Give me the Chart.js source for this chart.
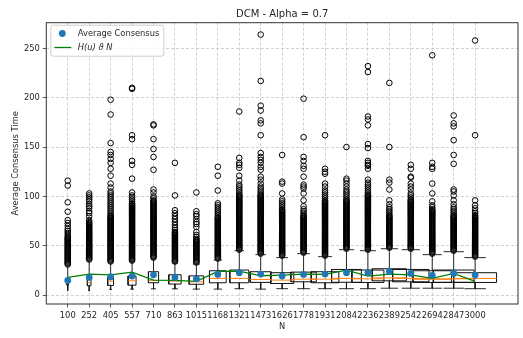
<!DOCTYPE html>
<html lang="en">
<head>
<meta charset="UTF-8">
<title>DCM - Alpha = 0.7</title>
<script src="https://cdn.jsdelivr.net/npm/chart.js@4.4.0/dist/chart.umd.min.js"></script>
<style>
  html, body { margin: 0; padding: 0; background: #fff; }
  #wrap { width: 523px; height: 338px; }
</style>
</head>
<body>
<div id="wrap"><canvas id="chart" width="523" height="338"></canvas></div>
<script>
// network sizes (one box per N)
const sizes = [100, 252, 405, 557, 710, 863, 1015, 1168, 1321, 1473, 1626, 1778, 1931, 2084, 2236, 2389, 2542, 2694, 2847, 3000];

// box statistics
const q1 = [10, 9.5, 9.8, 10.1, 12.5, 11.2, 11, 12.5, 12.5, 12.9, 11.8, 13.5, 12.5, 13, 12.8, 14.5, 13.5, 12.8, 13, 12.8];
const medians = [12, 12.9, 14.2, 14.5, 14.9, 14.2, 13.5, 16.9, 16.9, 15.9, 15.2, 16.2, 16.2, 17, 16.5, 17.5, 17, 16, 16.5, 16.9];
const q3 = [14, 15.9, 17.9, 19.3, 23.7, 20.6, 19.5, 24.7, 25.4, 23.7, 22.7, 23.3, 23.7, 26, 25.4, 26.7, 26, 24.7, 25.4, 22.7];
const whiskerLow = [4.5, 4.5, 5.8, 6.1, 6.4, 6.4, 6.1, 6.1, 6.5, 6.1, 6.5, 6.5, 6.5, 6.5, 6.5, 7, 7, 7, 7, 6.5];
const whiskerHigh = [30, 34.5, 32.5, 33.5, 36.5, 32.5, 31.5, 35.5, 45, 41, 38, 42, 39, 46, 45, 47, 46, 41, 44, 38];

// average consensus time and the H(u) theta N estimate
const averages = [14.9, 17.9, 18.6, 19.3, 20.6, 17.9, 16.5, 21, 22.7, 21.3, 19.3, 21, 21.3, 22.7, 22.7, 24, 22, 20, 22, 20.3];
const theory = [17.9, 21.3, 20.6, 23.3, 15.2, 14.9, 13.9, 24, 24.4, 19.6, 20.3, 21.3, 21, 25.4, 19.3, 21.3, 20.6, 17, 22, 13.9];

// outliers for each N (sparse ones first, then the packed run above the whisker)
const fliers = [
  [116, 111, 94, 84.5, 76, 73, 70, 67, 65, 63, 61, 59,
   58, 57, 56, 55, 54, 53, 52, 51, 50, 49, 48, 47, 46, 45, 44, 43, 42, 41, 40, 39, 38, 37, 36, 35, 34, 33, 32, 31],
  [103, 101, 99, 97, 95, 92, 90, 88, 85, 83, 80, 76, 74,
   73, 72, 71, 70, 69, 68, 67, 66, 65, 64, 63, 62, 61, 60, 59, 58, 57, 56, 55, 54, 53, 52, 51, 50, 49, 48, 47, 46, 45, 44, 43, 42, 41, 40, 39, 38, 37, 36],
  [198, 183, 154, 145, 142, 138, 134, 128, 121, 113, 109, 105, 103, 101, 99, 97, 95, 93, 91, 89, 87, 85, 83, 81,
   80, 79, 78, 77, 76, 75, 74, 73, 72, 71, 70, 69, 68, 67, 66, 65, 64, 63, 62, 61, 60, 59, 58, 57, 56, 55, 54, 53, 52, 51, 50, 49, 48, 47, 46, 45, 44, 43, 42, 41, 40, 39, 38, 37, 36, 35, 34],
  [210, 209, 162, 158, 136, 132, 118, 104, 101, 99, 97, 95, 93,
   92, 91, 90, 89, 88, 87, 86, 85, 84, 83, 82, 81, 80, 79, 78, 77, 76, 75, 74, 73, 72, 71, 70, 69, 68, 67, 66, 65, 64, 63, 62, 61, 60, 59, 58, 57, 56, 55, 54, 53, 52, 51, 50, 49, 48, 47, 46, 45, 44, 43, 42, 41, 40, 39, 38, 37, 36, 35],
  [173, 172, 158, 148, 140, 127, 107, 104, 100, 98, 96,
   95, 94, 93, 92, 91, 90, 89, 88, 87, 86, 85, 84, 83, 82, 81, 80, 79, 78, 77, 76, 75, 74, 73, 72, 71, 70, 69, 68, 67, 66, 65, 64, 63, 62, 61, 60, 59, 58, 57, 56, 55, 54, 53, 52, 51, 50, 49, 48, 47, 46, 45, 44, 43, 42, 41, 40, 39, 38],
  [134, 101, 86, 83, 80, 77, 74, 71, 68, 66, 64,
   63, 62, 61, 60, 59, 58, 57, 56, 55, 54, 53, 52, 51, 50, 49, 48, 47, 46, 45, 44, 43, 42, 41, 40, 39, 38, 37, 36, 35, 34],
  [104, 85, 82, 80, 77, 74, 72, 69, 64, 61, 59, 57,
   56, 55, 54, 53, 52, 51, 50, 49, 48, 47, 46, 45, 44, 43, 42, 41, 40, 39, 38, 37, 36, 35, 34, 33],
  [130, 121, 106, 93, 91, 89, 87, 85, 83, 81, 79,
   78, 77, 76, 75, 74, 73, 72, 71, 70, 69, 68, 67, 66, 65, 64, 63, 62, 61, 60, 59, 58, 57, 56, 55, 54, 53, 52, 51, 50, 49, 48, 47, 46, 45, 44, 43, 42, 41, 40, 39, 38, 37],
  [186, 139, 134, 132, 129, 121, 116, 112, 110, 108, 106, 104, 102,
   101, 100, 99, 98, 97, 96, 95, 94, 93, 92, 91, 90, 89, 88, 87, 86, 85, 84, 83, 82, 81, 80, 79, 78, 77, 76, 75, 74, 73, 72, 71, 70, 69, 68, 67, 66, 65, 64, 63, 62, 61, 60, 59, 58, 57, 56, 55, 54, 53, 52, 51, 50, 49, 48, 47, 46],
  [264, 217, 192, 187, 177, 174, 162, 144, 140, 137, 134, 130, 127, 120, 117, 113, 110, 108, 106, 104, 102,
   101, 100, 99, 98, 97, 96, 95, 94, 93, 92, 91, 90, 89, 88, 87, 86, 85, 84, 83, 82, 81, 80, 79, 78, 77, 76, 75, 74, 73, 72, 71, 70, 69, 68, 67, 66, 65, 64, 63, 62, 61, 60, 59, 58, 57, 56, 55, 54, 53, 52, 51, 50, 49, 48, 47, 46, 45, 44, 43, 42],
  [142, 115, 113, 103, 97, 95, 93, 91, 89, 87,
   86, 85, 84, 83, 82, 81, 80, 79, 78, 77, 76, 75, 74, 73, 72, 71, 70, 69, 68, 67, 66, 65, 64, 63, 62, 61, 60, 59, 58, 57, 56, 55, 54, 53, 52, 51, 50, 49, 48, 47, 46, 45, 44, 43, 42, 41, 40],
  [199, 160, 140, 136, 131, 128, 120, 112, 110, 108, 103, 96, 90, 87, 85, 83, 81,
   80, 79, 78, 77, 76, 75, 74, 73, 72, 71, 70, 69, 68, 67, 66, 65, 64, 63, 62, 61, 60, 59, 58, 57, 56, 55, 54, 53, 52, 51, 50, 49, 48, 47, 46, 45, 44, 43],
  [162, 128, 125, 123, 113, 110, 106, 104, 102, 100, 98, 96,
   95, 94, 93, 92, 91, 90, 89, 88, 87, 86, 85, 84, 83, 82, 81, 80, 79, 78, 77, 76, 75, 74, 73, 72, 71, 70, 69, 68, 67, 66, 65, 64, 63, 62, 61, 60, 59, 58, 57, 56, 55, 54, 53, 52, 51, 50, 49, 48, 47, 46, 45, 44, 43, 42, 41, 40],
  [150, 118, 116, 113, 110, 107, 105, 103, 101, 99, 97,
   96, 95, 94, 93, 92, 91, 90, 89, 88, 87, 86, 85, 84, 83, 82, 81, 80, 79, 78, 77, 76, 75, 74, 73, 72, 71, 70, 69, 68, 67, 66, 65, 64, 63, 62, 61, 60, 59, 58, 57, 56, 55, 54, 53, 52, 51, 50, 49, 48, 47],
  [232, 226, 181, 178, 172, 153, 149, 136, 134, 132, 131, 128, 117, 114, 112, 110, 108, 106, 104, 102,
   101, 100, 99, 98, 97, 96, 95, 94, 93, 92, 91, 90, 89, 88, 87, 86, 85, 84, 83, 82, 81, 80, 79, 78, 77, 76, 75, 74, 73, 72, 71, 70, 69, 68, 67, 66, 65, 64, 63, 62, 61, 60, 59, 58, 57, 56, 55, 54, 53, 52, 51, 50, 49, 48, 47, 46],
  [215, 150, 117, 114, 107, 96, 92, 89, 87, 85, 83, 81,
   80, 79, 78, 77, 76, 75, 74, 73, 72, 71, 70, 69, 68, 67, 66, 65, 64, 63, 62, 61, 60, 59, 58, 57, 56, 55, 54, 53, 52, 51, 50, 49, 48],
  [132, 128, 120, 119, 113, 110, 107, 103, 101, 99, 97,
   96, 95, 94, 93, 92, 91, 90, 89, 88, 87, 86, 85, 84, 83, 82, 81, 80, 79, 78, 77, 76, 75, 74, 73, 72, 71, 70, 69, 68, 67, 66, 65, 64, 63, 62, 61, 60, 59, 58, 57, 56, 55, 54, 53, 52, 51, 50, 49, 48, 47],
  [243, 134, 130, 128, 113, 103, 95, 91, 89, 87,
   86, 85, 84, 83, 82, 81, 80, 79, 78, 77, 76, 75, 74, 73, 72, 71, 70, 69, 68, 67, 66, 65, 64, 63, 62, 61, 60, 59, 58, 57, 56, 55, 54, 53, 52, 51, 50, 49, 48, 47, 46, 45, 44, 43, 42],
  [182, 174, 171, 157, 142, 133, 107, 105, 101, 96, 92, 89, 87, 85, 83, 81,
   80, 79, 78, 77, 76, 75, 74, 73, 72, 71, 70, 69, 68, 67, 66, 65, 64, 63, 62, 61, 60, 59, 58, 57, 56, 55, 54, 53, 52, 51, 50, 49, 48, 47, 46, 45],
  [258, 162, 96, 91, 88, 85, 83, 81,
   80, 79, 78, 77, 76, 75, 74, 73, 72, 71, 70, 69, 68, 67, 66, 65, 64, 63, 62, 61, 60, 59, 58, 57, 56, 55, 54, 53, 52, 51, 50, 49, 48, 47, 46, 45, 44, 43, 42, 41, 40, 39]
];

const yTicks = [0, 50, 100, 150, 200, 250];

const FONT = "'DejaVu Sans', sans-serif";
const TEXT = '#262626';

// boxes get wider with N (width N/1500 in category units)
const halfWidth = n => n / 3000;

const boxPts = [], medianPts = [], whiskerPts = [], flierPts = [];
sizes.forEach((n, i) => {
  const x = i + 1, h = halfWidth(n), c = h / 2;
  boxPts.push({x: x - h, y: q1[i]}, {x: x + h, y: q1[i]}, {x: x + h, y: q3[i]},
              {x: x - h, y: q3[i]}, {x: x - h, y: q1[i]}, {x: x, y: null});
  medianPts.push({x: x - h, y: medians[i]}, {x: x + h, y: medians[i]}, {x: x, y: null});
  whiskerPts.push({x: x, y: q1[i]}, {x: x, y: whiskerLow[i]}, {x: x, y: null},
                  {x: x - c, y: whiskerLow[i]}, {x: x + c, y: whiskerLow[i]}, {x: x, y: null},
                  {x: x, y: q3[i]}, {x: x, y: whiskerHigh[i]}, {x: x, y: null},
                  {x: x - c, y: whiskerHigh[i]}, {x: x + c, y: whiskerHigh[i]}, {x: x, y: null});
  fliers[i].forEach(v => flierPts.push({x: x, y: v}));
});

const pageBg = {
  id: 'pageBg',
  beforeDraw(chart) {
    const {ctx} = chart;
    ctx.save();
    ctx.fillStyle = '#fff';
    ctx.fillRect(0, 0, chart.width, chart.height);
    ctx.restore();
  }
};

// axes frame plus the boxed legend in the upper left corner
const frameAndLegend = {
  id: 'frameAndLegend',
  afterDraw(chart) {
    const {ctx, chartArea: a} = chart;
    ctx.save();
    ctx.strokeStyle = '#333';
    ctx.lineWidth = 1;
    ctx.strokeRect(a.left, a.top, a.right - a.left, a.bottom - a.top);

    const lx = a.left + 4.5, ly = a.top + 2.5, lw = 113, lh = 31;
    ctx.beginPath();
    ctx.roundRect(lx, ly, lw, lh, 2.5);
    ctx.fillStyle = 'rgba(255,255,255,0.85)';
    ctx.fill();
    ctx.strokeStyle = '#d0d0d0';
    ctx.lineWidth = 1;
    ctx.stroke();

    ctx.fillStyle = '#1f77b4';
    ctx.beginPath();
    ctx.arc(lx + 11.5, ly + 8.3, 3.4, 0, Math.PI * 2);
    ctx.fill();

    ctx.strokeStyle = '#008000';
    ctx.lineWidth = 1.3;
    ctx.beginPath();
    ctx.moveTo(lx + 3.5, ly + 22.3);
    ctx.lineTo(lx + 20.5, ly + 22.3);
    ctx.stroke();

    ctx.fillStyle = TEXT;
    ctx.textBaseline = 'middle';
    ctx.textAlign = 'left';
    ctx.font = "8.3px " + FONT;
    ctx.fillText('Average Consensus', lx + 27, ly + 8.6);
    ctx.font = "italic 8.3px " + FONT;
    ctx.fillText('H(u) \u03D1 N', lx + 27, ly + 22.6);
    ctx.restore();
  }
};

const gridStyle = {
  color: '#c4c4c4',
  lineWidth: 0.8,
  tickColor: '#333',
  tickLength: 3.5,
  tickBorderDash: [],
  tickWidth: 0.8
};
// v4 takes the grid-line dash from the border options
const borderStyle = { display: false, dash: [3, 2] };

new Chart(document.getElementById('chart'), {
  type: 'scatter',
  data: {
    datasets: [
      {
        label: 'Average Consensus',
        data: averages.map((v, i) => ({x: i + 1, y: v})),
        pointRadius: 3.4,
        pointBackgroundColor: '#1f77b4',
        pointBorderWidth: 0,
        order: 0
      },
      {
        type: 'line',
        label: 'H(u) \u03D1 N',
        data: theory.map((v, i) => ({x: i + 1, y: v})),
        borderColor: '#008000',
        borderWidth: 1.3,
        pointRadius: 0,
        order: 1
      },
      {
        type: 'line',
        data: medianPts,
        borderColor: '#ff7f0e',
        borderWidth: 1,
        pointRadius: 0,
        spanGaps: false,
        order: 2
      },
      {
        type: 'line',
        data: boxPts,
        borderColor: '#111',
        borderWidth: 1,
        pointRadius: 0,
        spanGaps: false,
        order: 3
      },
      {
        type: 'line',
        data: whiskerPts,
        borderColor: '#111',
        borderWidth: 0.9,
        pointRadius: 0,
        spanGaps: false,
        order: 4
      },
      {
        data: flierPts,
        pointStyle: 'circle',
        pointRadius: 2.8,
        pointBackgroundColor: 'rgba(0,0,0,0)',
        pointBorderColor: '#000',
        pointBorderWidth: 1,
        order: 5
      }
    ]
  },
  options: {
    responsive: false,
    animation: false,
    devicePixelRatio: 1,
    layout: { padding: { top: 0, right: 3, bottom: 0, left: 0 } },
    plugins: {
      legend: { display: false },
      tooltip: { enabled: false },
      title: {
        display: true,
        fullSize: false,
        text: 'DCM - Alpha = 0.7',
        color: TEXT,
        font: { family: FONT, size: 10, weight: 'normal' },
        padding: { top: 8.5, bottom: 2.2 }
      }
    },
    scales: {
      x: {
        type: 'linear',
        min: 0,
        max: 22,
        afterBuildTicks: axis => { axis.ticks = sizes.map((n, i) => ({value: i + 1})); },
        afterFit: axis => { axis.height = 34; },
        ticks: {
          autoSkip: false,
          maxRotation: 0,
          minRotation: 0,
          padding: 3,
          color: TEXT,
          font: { family: FONT, size: 8.3 },
          callback: v => String(sizes[Math.round(v) - 1])
        },
        grid: gridStyle,
        border: borderStyle,
        title: {
          display: true,
          text: 'N',
          color: TEXT,
          font: { family: FONT, size: 8.3 },
          padding: { top: 0, bottom: 6 }
        }
      },
      y: {
        min: -9,
        max: 276,
        afterBuildTicks: axis => { axis.ticks = yTicks.map(v => ({value: v})); },
        afterFit: axis => { axis.width = 46.3; },
        ticks: {
          padding: 3,
          color: TEXT,
          font: { family: FONT, size: 8.3 }
        },
        grid: gridStyle,
        border: borderStyle,
        title: {
          display: true,
          text: 'Average Consensus Time',
          color: TEXT,
          font: { family: FONT, size: 8.3 },
          padding: { top: 10.5, bottom: 0 }
        }
      }
    }
  },
  plugins: [pageBg, frameAndLegend]
});
</script>
</body>
</html>
